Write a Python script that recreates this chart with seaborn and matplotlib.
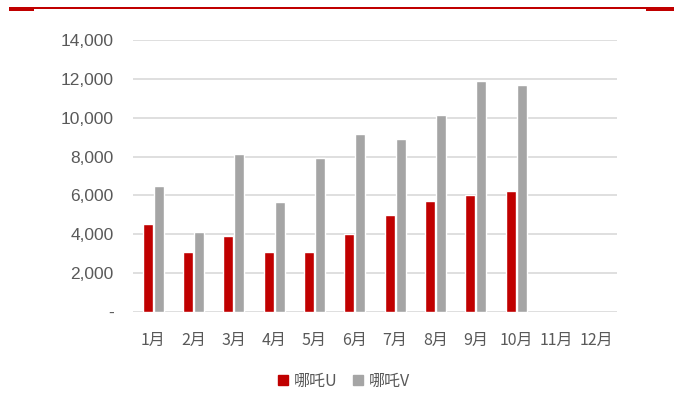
import numpy as np
import pandas as pd
import matplotlib
matplotlib.use('Agg')
import matplotlib.pyplot as plt
import seaborn as sns
from matplotlib.patches import Rectangle
from matplotlib.ticker import FuncFormatter

months = ['1月', '2月', '3月', '4月', '5月', '6月', '7月', '8月', '9月', '10月', '11月', '12月']
series_names = ['哪吒U', '哪吒V']
nezha_u = [4520, 3080, 3900, 3080, 3080, 4000, 5000, 5720, 6030, 6240, np.nan, np.nan]
nezha_v = [6480, 4110, 8130, 5650, 7920, 9180, 8920, 10150, 11900, 11700, np.nan, np.nan]
yticks = [0, 2000, 4000, 6000, 8000, 10000, 12000, 14000]

df = pd.DataFrame({
    'month': months * 2,
    'model': [series_names[0]] * 12 + [series_names[1]] * 12,
    'sales': nezha_u + nezha_v,
})

sns.set_theme(style='white')
plt.rcParams['font.family'] = ['Liberation Sans', 'Noto Sans CJK SC', 'DejaVu Sans']

red = '#c00000'
gray = '#a5a5a5'
text_color = '#595959'

fig = plt.figure(figsize=(6.78, 3.94), dpi=100)
ax = fig.add_axes([133 / 678, 1 - 312 / 394, 484 / 678, 272 / 394])

sns.barplot(data=df, x='month', y='sales', hue='model', order=months,
            hue_order=series_names, palette=[red, gray], width=0.55, gap=0.1,
            saturation=1, ax=ax, legend=False)

ax.set_ylim(0, 14000)
ax.set_xlim(-0.5, 11.5)
ax.set_yticks(yticks)
ax.yaxis.set_major_formatter(FuncFormatter(lambda v, p: '-' if v == 0 else f'{int(v):,}'))
ax.yaxis.grid(True, color='#d9d9d9', linewidth=1.2)
ax.set_axisbelow(True)
for s in ax.spines.values():
    s.set_visible(False)
ax.set_xlabel('')
ax.set_ylabel('')
ax.tick_params(axis='y', length=0, pad=14, labelsize=12.5, labelcolor=text_color)
ax.tick_params(axis='x', length=0, pad=14, labelsize=11.5, labelcolor=text_color)
for lab in ax.get_xticklabels():
    lab.set_family(['Noto Sans CJK SC', 'DejaVu Sans'])

handles = [Rectangle((0, 0), 1, 1, color=c) for c in [red, gray]]
leg = fig.legend(handles, series_names, loc='center', bbox_to_anchor=(344 / 678, 1 - 381 / 394),
                 ncol=2, frameon=False, handlelength=0.6, handleheight=0.6,
                 handletextpad=0.35, columnspacing=1.0,
                 prop={'family': ['Noto Sans CJK SC'], 'size': 11.5})
for t in leg.get_texts():
    t.set_color(text_color)

# red header rule
W, H = 678, 394
fig.add_artist(Rectangle((9 / W, 1 - 9.3 / H), (674 - 9) / W, 2.6 / H,
                         transform=fig.transFigure, color=red, lw=0))
fig.add_artist(Rectangle((9 / W, 1 - 10.7 / H), 25 / W, 4 / H,
                         transform=fig.transFigure, color=red, lw=0))
fig.add_artist(Rectangle((646 / W, 1 - 10.7 / H), 28 / W, 4 / H,
                         transform=fig.transFigure, color=red, lw=0))

fig.savefig('out.png', dpi=100)
